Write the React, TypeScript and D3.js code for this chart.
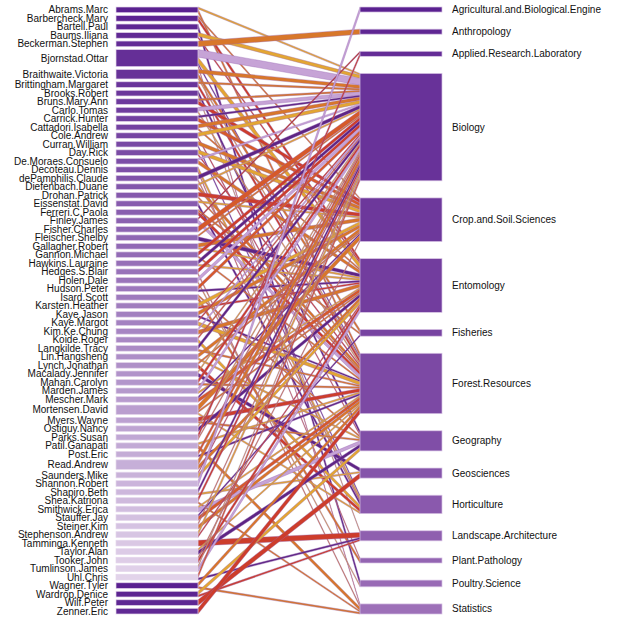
import React from "react";
import * as d3 from "d3";

const people: string[] = [
  "Abrams.Marc", "Barbercheck.Mary", "Bartell.Paul", "Baums.Iliana", "Beckerman.Stephen",
  "Bjornstad.Ottar", "Braithwaite.Victoria", "Brittingham.Margaret", "Brooks.Robert", "Bruns.Mary.Ann",
  "Carlo.Tomas", "Carrick.Hunter", "Cattadori.Isabella", "Cole.Andrew", "Curran.William",
  "Day.Rick", "De.Moraes.Consuelo", "Decoteau.Dennis", "dePamphilis.Claude", "Diefenbach.Duane",
  "Drohan.Patrick", "Eissenstat.David", "Ferreri.C.Paola", "Finley.James", "Fisher.Charles",
  "Fleischer.Shelby", "Gallagher.Robert", "Gannon.Michael", "Hawkins.Lauraine", "Hedges.S.Blair",
  "Holen.Dale", "Hudson.Peter", "Isard.Scott", "Karsten.Heather", "Kaye.Jason",
  "Kaye.Margot", "Kim.Ke.Chung", "Koide.Roger", "Langkilde.Tracy", "Lin.Hangsheng",
  "Lynch.Jonathan", "Macalady.Jennifer", "Mahan.Carolyn", "Marden.James", "Mescher.Mark",
  "Mortensen.David", "Myers.Wayne", "Ostiguy.Nancy", "Parks.Susan", "Patil.Ganapati",
  "Post.Eric", "Read.Andrew", "Saunders.Mike", "Shannon.Robert", "Shapiro.Beth",
  "Shea.Katriona", "Smithwick.Erica", "Stauffer.Jay", "Steiner.Kim", "Stephenson.Andrew",
  "Tamminga.Kenneth", "Taylor.Alan", "Tooker.John", "Tumlinson.James", "Uhl.Chris",
  "Wagner.Tyler", "Wardrop.Denice", "Wilf.Peter", "Zenner.Eric",
];

const departments: string[] = [
  "Agricultural.and.Biological.Engine", "Anthropology", "Applied.Research.Laboratory", "Biology",
  "Crop.and.Soil.Sciences", "Entomology", "Fisheries", "Forest.Resources", "Geography",
  "Geosciences", "Horticulture", "Landscape.Architecture", "Plant.Pathology", "Poultry.Science",
  "Statistics",
];

// [person, department, weight]
const affiliations: [string, string, number][] = [
  ["Abrams.Marc", "Forest.Resources", 2], ["Abrams.Marc", "Biology", 1],
  ["Barbercheck.Mary", "Entomology", 2], ["Barbercheck.Mary", "Crop.and.Soil.Sciences", 1],
  ["Bartell.Paul", "Poultry.Science", 3],
  ["Baums.Iliana", "Biology", 2], ["Baums.Iliana", "Entomology", 1],
  ["Beckerman.Stephen", "Anthropology", 3],
  ["Bjornstad.Ottar", "Biology", 4], ["Bjornstad.Ottar", "Entomology", 3], ["Bjornstad.Ottar", "Statistics", 1], ["Bjornstad.Ottar", "Forest.Resources", 1],
  ["Braithwaite.Victoria", "Biology", 2], ["Braithwaite.Victoria", "Fisheries", 2], ["Braithwaite.Victoria", "Forest.Resources", 1],
  ["Brittingham.Margaret", "Forest.Resources", 2], ["Brittingham.Margaret", "Biology", 1],
  ["Brooks.Robert", "Geography", 2], ["Brooks.Robert", "Landscape.Architecture", 1],
  ["Bruns.Mary.Ann", "Crop.and.Soil.Sciences", 2], ["Bruns.Mary.Ann", "Biology", 1],
  ["Carlo.Tomas", "Biology", 2], ["Carlo.Tomas", "Forest.Resources", 1],
  ["Carrick.Hunter", "Crop.and.Soil.Sciences", 2], ["Carrick.Hunter", "Biology", 1],
  ["Cattadori.Isabella", "Biology", 2], ["Cattadori.Isabella", "Entomology", 1],
  ["Cole.Andrew", "Biology", 2], ["Cole.Andrew", "Geography", 1],
  ["Curran.William", "Crop.and.Soil.Sciences", 2], ["Curran.William", "Horticulture", 1],
  ["Day.Rick", "Crop.and.Soil.Sciences", 2], ["Day.Rick", "Forest.Resources", 1],
  ["De.Moraes.Consuelo", "Entomology", 2], ["De.Moraes.Consuelo", "Biology", 1],
  ["Decoteau.Dennis", "Horticulture", 2], ["Decoteau.Dennis", "Plant.Pathology", 1],
  ["dePamphilis.Claude", "Biology", 2], ["dePamphilis.Claude", "Horticulture", 1],
  ["Diefenbach.Duane", "Forest.Resources", 2], ["Diefenbach.Duane", "Biology", 1],
  ["Drohan.Patrick", "Crop.and.Soil.Sciences", 2], ["Drohan.Patrick", "Forest.Resources", 1],
  ["Eissenstat.David", "Horticulture", 2], ["Eissenstat.David", "Crop.and.Soil.Sciences", 1],
  ["Ferreri.C.Paola", "Forest.Resources", 2], ["Ferreri.C.Paola", "Fisheries", 1],
  ["Finley.James", "Forest.Resources", 2], ["Finley.James", "Applied.Research.Laboratory", 1],
  ["Fisher.Charles", "Biology", 3],
  ["Fleischer.Shelby", "Entomology", 2], ["Fleischer.Shelby", "Biology", 1],
  ["Gallagher.Robert", "Crop.and.Soil.Sciences", 2], ["Gallagher.Robert", "Entomology", 1],
  ["Gannon.Michael", "Biology", 2], ["Gannon.Michael", "Forest.Resources", 1],
  ["Hawkins.Lauraine", "Biology", 2], ["Hawkins.Lauraine", "Entomology", 1],
  ["Hedges.S.Blair", "Biology", 2], ["Hedges.S.Blair", "Statistics", 1],
  ["Holen.Dale", "Biology", 2], ["Holen.Dale", "Poultry.Science", 1],
  ["Hudson.Peter", "Biology", 2], ["Hudson.Peter", "Entomology", 1],
  ["Isard.Scott", "Plant.Pathology", 2], ["Isard.Scott", "Geography", 1],
  ["Karsten.Heather", "Crop.and.Soil.Sciences", 2], ["Karsten.Heather", "Entomology", 1],
  ["Kaye.Jason", "Crop.and.Soil.Sciences", 2], ["Kaye.Jason", "Forest.Resources", 1],
  ["Kaye.Margot", "Forest.Resources", 2], ["Kaye.Margot", "Biology", 1],
  ["Kim.Ke.Chung", "Entomology", 2], ["Kim.Ke.Chung", "Biology", 1],
  ["Koide.Roger", "Horticulture", 2], ["Koide.Roger", "Biology", 1],
  ["Langkilde.Tracy", "Biology", 2], ["Langkilde.Tracy", "Forest.Resources", 1],
  ["Lin.Hangsheng", "Crop.and.Soil.Sciences", 2], ["Lin.Hangsheng", "Geography", 1],
  ["Lynch.Jonathan", "Horticulture", 2], ["Lynch.Jonathan", "Crop.and.Soil.Sciences", 1],
  ["Macalady.Jennifer", "Geosciences", 2], ["Macalady.Jennifer", "Biology", 1],
  ["Mahan.Carolyn", "Biology", 2], ["Mahan.Carolyn", "Forest.Resources", 1],
  ["Marden.James", "Biology", 2], ["Marden.James", "Entomology", 1],
  ["Mescher.Mark", "Entomology", 2], ["Mescher.Mark", "Crop.and.Soil.Sciences", 1],
  ["Mortensen.David", "Crop.and.Soil.Sciences", 3], ["Mortensen.David", "Entomology", 1], ["Mortensen.David", "Horticulture", 1],
  ["Myers.Wayne", "Forest.Resources", 2], ["Myers.Wayne", "Geography", 1],
  ["Ostiguy.Nancy", "Entomology", 2], ["Ostiguy.Nancy", "Biology", 1],
  ["Parks.Susan", "Applied.Research.Laboratory", 2], ["Parks.Susan", "Biology", 1],
  ["Patil.Ganapati", "Statistics", 2], ["Patil.Ganapati", "Forest.Resources", 1],
  ["Post.Eric", "Biology", 2], ["Post.Eric", "Forest.Resources", 1],
  ["Read.Andrew", "Biology", 3], ["Read.Andrew", "Entomology", 2],
  ["Saunders.Mike", "Entomology", 2], ["Saunders.Mike", "Biology", 1],
  ["Shannon.Robert", "Agricultural.and.Biological.Engine", 3],
  ["Shapiro.Beth", "Biology", 2], ["Shapiro.Beth", "Geosciences", 1],
  ["Shea.Katriona", "Biology", 2], ["Shea.Katriona", "Statistics", 1],
  ["Smithwick.Erica", "Geography", 2], ["Smithwick.Erica", "Forest.Resources", 1],
  ["Stauffer.Jay", "Forest.Resources", 2], ["Stauffer.Jay", "Fisheries", 1],
  ["Steiner.Kim", "Forest.Resources", 2], ["Steiner.Kim", "Biology", 1],
  ["Stephenson.Andrew", "Biology", 2], ["Stephenson.Andrew", "Entomology", 1],
  ["Tamminga.Kenneth", "Landscape.Architecture", 3],
  ["Taylor.Alan", "Geography", 2], ["Taylor.Alan", "Forest.Resources", 1],
  ["Tooker.John", "Entomology", 2], ["Tooker.John", "Crop.and.Soil.Sciences", 1],
  ["Tumlinson.James", "Entomology", 2], ["Tumlinson.James", "Biology", 1],
  ["Uhl.Chris", "Biology", 2], ["Uhl.Chris", "Landscape.Architecture", 1],
  ["Wagner.Tyler", "Forest.Resources", 2], ["Wagner.Tyler", "Statistics", 1],
  ["Wardrop.Denice", "Geography", 2], ["Wardrop.Denice", "Landscape.Architecture", 1],
  ["Wilf.Peter", "Geosciences", 3],
  ["Zenner.Eric", "Forest.Resources", 3],
];

// styles
const linkPalette = [
  "#d8772a", "#e3a632", "#cd3d2b", "#d8772a", "#5e2585", "#e3a632",
  "#cd3d2b", "#d8772a", "#c6a3d6", "#e3a632", "#d65a2a", "#5e2585", "#d8772a",
];
const linkColorOverride: Record<string, string> = {
  "Beckerman.Stephen|Anthropology": "#d8772a",
  "Tamminga.Kenneth|Landscape.Architecture": "#cd3d2b",
  "Wilf.Peter|Geosciences": "#cd3d2b",
  "Zenner.Eric|Forest.Resources": "#cd3d2b",
  "Patil.Ganapati|Statistics": "#d8772a",
  "Wardrop.Denice|Geography": "#e3a632",
  "Shannon.Robert|Agricultural.and.Biological.Engine": "#c6a3d6",
  "Finley.James|Applied.Research.Laboratory": "#b8352e",
};

export default function App() {
  const width = 617;
  const height = 618;
  const top = 7;
  const bottom = 614;
  const lx0 = 116, lx1 = 198, rx0 = 360, rx1 = 442;
  const leftGap = 1.47;
  const rightGap = 10.2;

  const pIndex = new Map(people.map((p, i) => [p, i]));
  const dIndex = new Map(departments.map((d, i) => [d, i]));
  const pTotal = people.map(() => 0);
  const dTotal = departments.map(() => 0);
  affiliations.forEach(([p, d, w]) => {
    pTotal[pIndex.get(p)!] += w;
    dTotal[dIndex.get(d)!] += w;
  });

  const pStart: number[] = [];
  let acc = 0;
  pTotal.forEach((t, i) => {
    pStart.push(acc);
    acc += t + (i < pTotal.length - 1 ? leftGap : 0);
  });
  const yL = d3.scaleLinear().domain([0, acc]).range([top, bottom]);

  const dStart: number[] = [];
  let acc2 = 0;
  dTotal.forEach((t, i) => {
    dStart.push(acc2);
    acc2 += t + (i < dTotal.length - 1 ? rightGap : 0);
  });
  const yR = d3.scaleLinear().domain([0, acc2]).range([top, bottom]);

  const items = affiliations.map(([p, d, w], k) => ({ p: pIndex.get(p)!, d: dIndex.get(d)!, w, k, key: p + "|" + d }));
  const leftOff = new Map<number, number>();
  const rightOff = new Map<number, number>();
  const pCursor = people.map(() => 0);
  [...items].sort((a, b) => a.p - b.p || a.d - b.d).forEach((it) => {
    leftOff.set(it.k, pStart[it.p] + pCursor[it.p]);
    pCursor[it.p] += it.w;
  });
  const dCursor = departments.map(() => 0);
  [...items].sort((a, b) => a.d - b.d || a.p - b.p).forEach((it) => {
    rightOff.set(it.k, dStart[it.d] + dCursor[it.d]);
    dCursor[it.d] += it.w;
  });

  const leftColor = (i: number) => d3.interpolateRgb("#5a2190", "#e2d3ea")((i % 65) / 64);
  const rightColor = (j: number) => d3.interpolateRgb("#5a2190", "#9d70b8")(j / (departments.length - 1));

  const linkPath = d3.line<[number, number]>();

  return (
    <svg width={width} height={height} style={{ position: "absolute", left: 0, top: 0, background: "#fff" }}
      fontFamily="'Liberation Sans', Arial, sans-serif" fontSize={10}>
      <g>
        {items.map((it) => {
          const a0 = yL(leftOff.get(it.k)!);
          const a1 = yL(leftOff.get(it.k)! + it.w);
          const b0 = yR(rightOff.get(it.k)!);
          const b1 = yR(rightOff.get(it.k)! + it.w);
          const pts: [number, number][] = [[lx1, a0], [rx0, b0], [rx0, b1], [lx1, a1]];
          const col = linkColorOverride[it.key] ?? linkPalette[it.k % linkPalette.length];
          return (
            <path key={it.k} d={linkPath(pts)! + "Z"} fill={col} stroke="#9a6ab4" strokeWidth={0.5} strokeOpacity={0.75} strokeLinejoin="round" />
          );
        })}
      </g>
      <g>
        {people.map((p, i) => {
          const y0 = yL(pStart[i]);
          const y1 = yL(pStart[i] + pTotal[i]);
          return (
            <g key={p}>
              <rect x={lx0} y={y0} width={lx1 - lx0} height={y1 - y0} fill={leftColor(i)} stroke="#e4d6ec" strokeWidth={0.7} />
              <text x={108} y={(y0 + y1) / 2} textAnchor="end" dominantBaseline="central" fill="#111">{p}</text>
            </g>
          );
        })}
      </g>
      <g>
        {departments.map((d, j) => {
          const y0 = yR(dStart[j]);
          const y1 = yR(dStart[j] + dTotal[j]);
          return (
            <g key={d}>
              <rect x={rx0} y={y0} width={rx1 - rx0} height={y1 - y0} fill={rightColor(j)} stroke="#d8c4e4" strokeWidth={0.7} />
              <text x={452} y={(y0 + y1) / 2} dominantBaseline="central" fill="#111">{d}</text>
            </g>
          );
        })}
      </g>
    </svg>
  );
}
